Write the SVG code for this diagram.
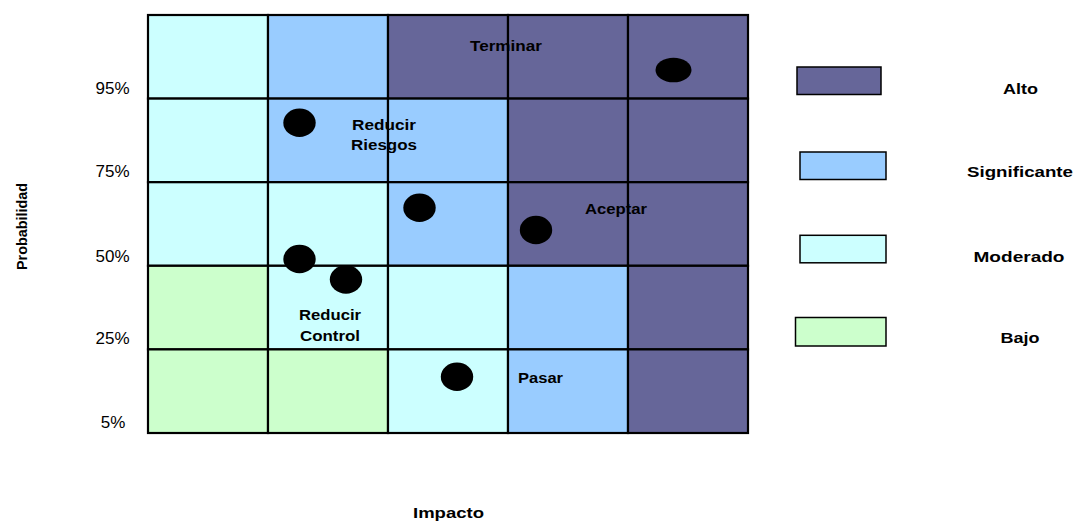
<svg xmlns="http://www.w3.org/2000/svg" width="1076" height="523" viewBox="0 0 1076 523">
  <style>
    .alto { fill: #666699; }
    .sig { fill: #99CCFF; }
    .mod { fill: #CCFFFF; }
    .bajo { fill: #CCFFCC; }
    .cell { stroke: #000; stroke-width: 2.2; }
    .key { stroke: #000; stroke-width: 1.5; }
    .lbl { font-family: "Liberation Sans", Arial, sans-serif; font-weight: bold; font-size: 14px; fill: #000; text-anchor: middle; }
    .leg { font-family: "Liberation Sans", Arial, sans-serif; font-weight: bold; font-size: 15.5px; fill: #000; text-anchor: middle; }
    .pct { font-family: "Liberation Sans", Arial, sans-serif; font-size: 17px; fill: #000; text-anchor: middle; }
    .dot { fill: #000; }
  </style>

  <!-- risk matrix: 5 impact columns x 5 probability rows -->
  <g id="matrix">
    <!-- row 1 (top) -->
    <rect class="cell mod" x="148" y="15" width="120" height="83.6"/>
    <rect class="cell sig" x="268" y="15" width="120" height="83.6"/>
    <rect class="cell alto" x="388" y="15" width="120" height="83.6"/>
    <rect class="cell alto" x="508" y="15" width="120" height="83.6"/>
    <rect class="cell alto" x="628" y="15" width="120" height="83.6"/>
    <!-- row 2 -->
    <rect class="cell mod" x="148" y="98.6" width="120" height="83.6"/>
    <rect class="cell sig" x="268" y="98.6" width="120" height="83.6"/>
    <rect class="cell sig" x="388" y="98.6" width="120" height="83.6"/>
    <rect class="cell alto" x="508" y="98.6" width="120" height="83.6"/>
    <rect class="cell alto" x="628" y="98.6" width="120" height="83.6"/>
    <!-- row 3 -->
    <rect class="cell mod" x="148" y="182.2" width="120" height="83.6"/>
    <rect class="cell mod" x="268" y="182.2" width="120" height="83.6"/>
    <rect class="cell sig" x="388" y="182.2" width="120" height="83.6"/>
    <rect class="cell alto" x="508" y="182.2" width="120" height="83.6"/>
    <rect class="cell alto" x="628" y="182.2" width="120" height="83.6"/>
    <!-- row 4 -->
    <rect class="cell bajo" x="148" y="265.8" width="120" height="83.6"/>
    <rect class="cell mod" x="268" y="265.8" width="120" height="83.6"/>
    <rect class="cell mod" x="388" y="265.8" width="120" height="83.6"/>
    <rect class="cell sig" x="508" y="265.8" width="120" height="83.6"/>
    <rect class="cell alto" x="628" y="265.8" width="120" height="83.6"/>
    <!-- row 5 (bottom) -->
    <rect class="cell bajo" x="148" y="349.4" width="120" height="83.6"/>
    <rect class="cell bajo" x="268" y="349.4" width="120" height="83.6"/>
    <rect class="cell mod" x="388" y="349.4" width="120" height="83.6"/>
    <rect class="cell sig" x="508" y="349.4" width="120" height="83.6"/>
    <rect class="cell alto" x="628" y="349.4" width="120" height="83.6"/>
  </g>

  <!-- zone labels -->
  <g id="zones">
    <text class="lbl" x="506" y="51" textLength="72" lengthAdjust="spacingAndGlyphs">Terminar</text>
    <text class="lbl" x="384" y="130" textLength="64" lengthAdjust="spacingAndGlyphs">Reducir</text>
    <text class="lbl" x="384" y="150" textLength="66" lengthAdjust="spacingAndGlyphs">Riesgos</text>
    <text class="lbl" x="616" y="214" textLength="62" lengthAdjust="spacingAndGlyphs">Aceptar</text>
    <text class="lbl" x="330" y="320" textLength="62" lengthAdjust="spacingAndGlyphs">Reducir</text>
    <text class="lbl" x="330" y="341" textLength="60" lengthAdjust="spacingAndGlyphs">Control</text>
    <text class="lbl" x="540.5" y="383" textLength="45" lengthAdjust="spacingAndGlyphs">Pasar</text>
  </g>

  <!-- plotted risks -->
  <g id="risks">
    <ellipse class="dot" cx="673.5" cy="70" rx="18" ry="12.3"/>
    <ellipse class="dot" cx="299.5" cy="122.7" rx="16.2" ry="14.2"/>
    <ellipse class="dot" cx="419.5" cy="207.7" rx="16.2" ry="14.2"/>
    <ellipse class="dot" cx="536" cy="230" rx="16.2" ry="14.2"/>
    <ellipse class="dot" cx="299.5" cy="259" rx="16.2" ry="14.2"/>
    <ellipse class="dot" cx="346" cy="279.5" rx="16.2" ry="14.2"/>
    <ellipse class="dot" cx="457" cy="376.7" rx="16.2" ry="14.2"/>
  </g>

  <!-- probability axis -->
  <g id="axis-y">
    <text class="pct" x="112.5" y="94.3">95%</text>
    <text class="pct" x="112.5" y="177.3">75%</text>
    <text class="pct" x="112.5" y="261.7">50%</text>
    <text class="pct" x="112.5" y="344">25%</text>
    <text class="pct" x="113" y="428.3">5%</text>
    <text class="lbl" transform="translate(26.7 226.5) rotate(-90)" style="font-size:14.5px" textLength="87" lengthAdjust="spacingAndGlyphs">Probabilidad</text>
  </g>

  <!-- impact axis -->
  <g id="axis-x">
    <text class="lbl" x="448.5" y="518" textLength="71" lengthAdjust="spacingAndGlyphs">Impacto</text>
  </g>

  <!-- legend -->
  <g id="legend">
    <g id="key-alto">
      <rect class="key alto" x="797" y="67" width="84" height="27.5"/>
      <text class="leg" x="1020.5" y="94" textLength="35" lengthAdjust="spacingAndGlyphs">Alto</text>
    </g>
    <g id="key-sig">
      <rect class="key sig" x="800" y="152" width="86" height="27.5"/>
      <text class="leg" x="1020" y="177" textLength="106" lengthAdjust="spacingAndGlyphs">Significante</text>
    </g>
    <g id="key-mod">
      <rect class="key mod" x="800" y="235.3" width="86" height="27.5"/>
      <text class="leg" x="1019" y="262" textLength="91" lengthAdjust="spacingAndGlyphs">Moderado</text>
    </g>
    <g id="key-bajo">
      <rect class="key bajo" x="795.5" y="317.5" width="90.5" height="28.5"/>
      <text class="leg" x="1020" y="342.5" textLength="39" lengthAdjust="spacingAndGlyphs">Bajo</text>
    </g>
  </g>
</svg>
